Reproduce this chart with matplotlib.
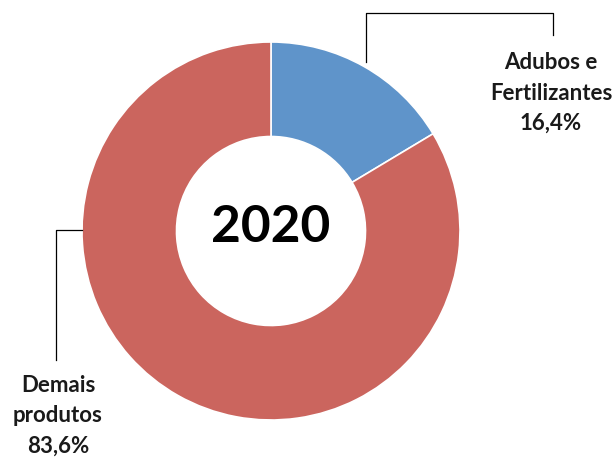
import matplotlib.pyplot as plt

# dados
labels = ['Adubos e\nFertilizantes', 'Demais\nprodutos']
values = [16.4, 83.6]
colors = ['#5F94CA', '#CB655E']
year = '2020'

plt.rcParams['font.family'] = ['Lato', 'DejaVu Sans']

fig = plt.figure(figsize=(6.16, 4.63), dpi=100)
ax = fig.add_axes([0, 0, 1, 1])

cx, cy, r = 271, 232, 189
ax.pie(values, colors=colors, startangle=90, counterclock=False,
       center=(cx, cy), radius=r, frame=True,
       wedgeprops=dict(width=r * 0.5, edgecolor='white', linewidth=1.2))
ax.set_xlim(0, 616)
ax.set_ylim(0, 463)
ax.set_aspect('equal')
ax.axis('off')

ax.text(cx, cy + 3, year, ha='center', va='center', fontsize=37, fontweight='bold')

# linhas de chamada
ax.plot([366, 366, 553, 553], [463 - 62, 463 - 13, 463 - 13, 463 - 35], color='black', lw=0.9)
ax.plot([82, 56, 56], [463 - 230, 463 - 230, 463 - 360], color='black', lw=0.9)

ax.text(551, 463 - 93, f'{labels[0]}\n{values[0]:.1f}%'.replace('.', ','), ha='center', va='center',
        fontsize=16, fontweight='bold', color='#1a1a1a', linespacing=1.55)
ax.text(58, 463 - 416, f'{labels[1]}\n{values[1]:.1f}%'.replace('.', ','), ha='center', va='center',
        fontsize=16, fontweight='bold', color='#1a1a1a', linespacing=1.55)

fig.savefig('out.png', dpi=100)
